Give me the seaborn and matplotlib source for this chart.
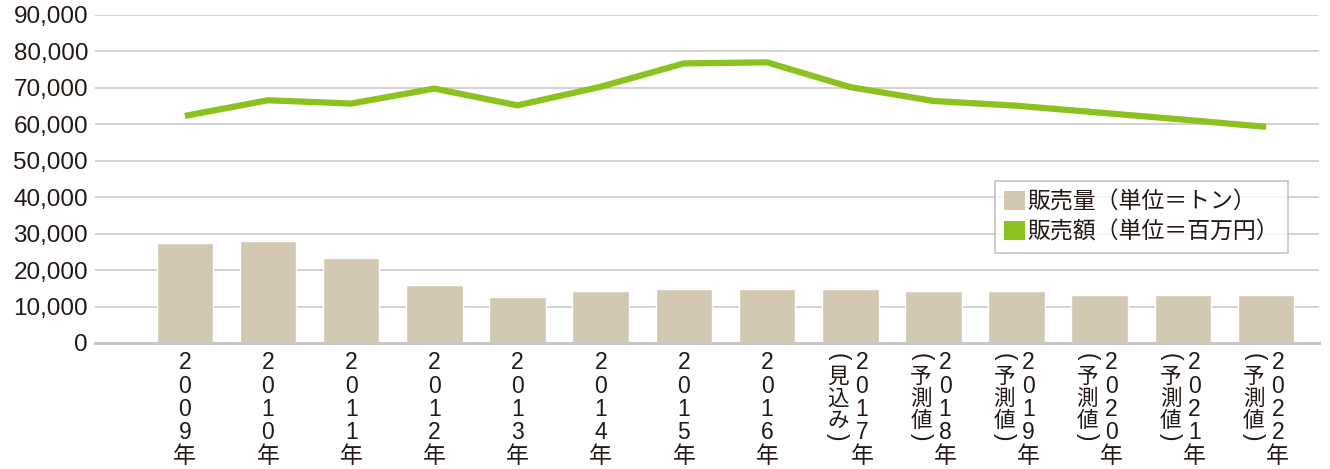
import numpy as np
import pandas as pd
import matplotlib
matplotlib.use("Agg")
import matplotlib.pyplot as plt
from matplotlib.patches import Patch
import seaborn as sns

years = ["2009", "2010", "2011", "2012", "2013", "2014", "2015", "2016",
         "2017", "2018", "2019", "2020", "2021", "2022"]
notes = ["", "", "", "", "", "", "", "",
         "見込み", "予測値", "予測値", "予測値", "予測値", "予測値"]
volume_t = [27500, 28000, 23200, 15900, 12600, 14200, 14900, 14900,
            14900, 14300, 14300, 13200, 13200, 13200]
amount_m = [62300, 66600, 65700, 69800, 65200, 70300, 76700, 77000,
            70200, 66400, 65100, 63200, 61300, 59300]
yticks = [0, 10000, 20000, 30000, 40000, 50000, 60000, 70000, 80000, 90000]
legend_labels = ["販売量（単位＝トン）", "販売額（単位＝百万円）"]

BAR_C = "#d3c9b3"
LINE_C = "#8cc21f"
TXT_C = "#231815"
FAM = ["Liberation Sans", "Noto Sans CJK JP", "DejaVu Sans"]
JFAM = ["Noto Sans CJK JP", "DejaVu Sans"]

sns.set_theme(style="white")
plt.rcParams["font.family"] = FAM

df = pd.DataFrame({"year": years, "volume": volume_t, "amount": amount_m})

fig = plt.figure(figsize=(13.3, 4.69), dpi=100)
ax = fig.add_axes([0.0714, 0.2687, 0.9206, 0.6994])

sns.barplot(data=df, x="year", y="volume", color=BAR_C, saturation=1,
            width=0.68, ax=ax, zorder=2)
sns.pointplot(data=df, x="year", y="amount", color=LINE_C, marker="",
              linestyle="-", linewidth=4.5, errorbar=None, ax=ax, zorder=3)
for l in ax.lines:
    l.set_solid_capstyle("butt")
    l.set_solid_joinstyle("miter")

ax.set_ylim(0, 90000)
ax.set_xlim(-1.08, 13.64)
ax.set_yticks(yticks)
ax.set_yticklabels([f"{v:,}" for v in yticks], fontsize=17.5, color=TXT_C)
ax.tick_params(axis="y", length=0, pad=5)
ax.set_xticks(range(len(years)))
ax.set_xticklabels([])
ax.tick_params(axis="x", length=0)
ax.set_xlabel("")
ax.set_ylabel("")
ax.yaxis.grid(True, color="#cfcfcf", lw=1.3, zorder=0)
ax.set_axisbelow(True)
for s in ["top", "right", "left"]:
    ax.spines[s].set_visible(False)
ax.spines["bottom"].set_color("#c8c8c8")
ax.spines["bottom"].set_linewidth(2.2)

tr = ax.get_xaxis_transform()
TOP = -0.025
FS = 16.5
for i, (y, n) in enumerate(zip(years, notes)):
    main = "\n".join(list(y + "年"))
    dx = 0.14 if n else 0.0
    ax.text(i + dx, TOP, main, transform=tr, ha="center", va="top",
            fontsize=FS, color=TXT_C, linespacing=1.02, family=FAM)
    if n:
        sx = i - 0.15
        # opening bracket (vertical form)
        ax.text(sx, TOP - 0.005, "(", transform=tr, ha="center", va="top",
                fontsize=FS, color=TXT_C, rotation=-90, family=FAM)
        ax.text(sx, TOP - 0.045, "\n".join(list(n)), transform=tr,
                ha="center", va="top", fontsize=FS - 1, color=TXT_C,
                linespacing=1.0, family=JFAM)
        ax.text(sx, TOP - 0.045 - 0.205, ")", transform=tr, ha="center",
                va="top", fontsize=FS, color=TXT_C, rotation=-90, family=FAM)

handles = [Patch(facecolor=BAR_C, edgecolor="none"),
           Patch(facecolor=LINE_C, edgecolor="none")]
leg = ax.legend(handles, legend_labels, loc="center",
                bbox_to_anchor=(0.855, 0.384), frameon=True,
                fancybox=False, handlelength=0.9, handleheight=0.9,
                handletextpad=0.12, borderpad=0.4, labelspacing=0.3,
                prop={"family": JFAM, "size": 16.5})
leg.get_frame().set_edgecolor("#bdbdbd")
leg.get_frame().set_linewidth(1.3)
for t in leg.get_texts():
    t.set_color(TXT_C)

fig.savefig("out.png", dpi=100, facecolor="white")
